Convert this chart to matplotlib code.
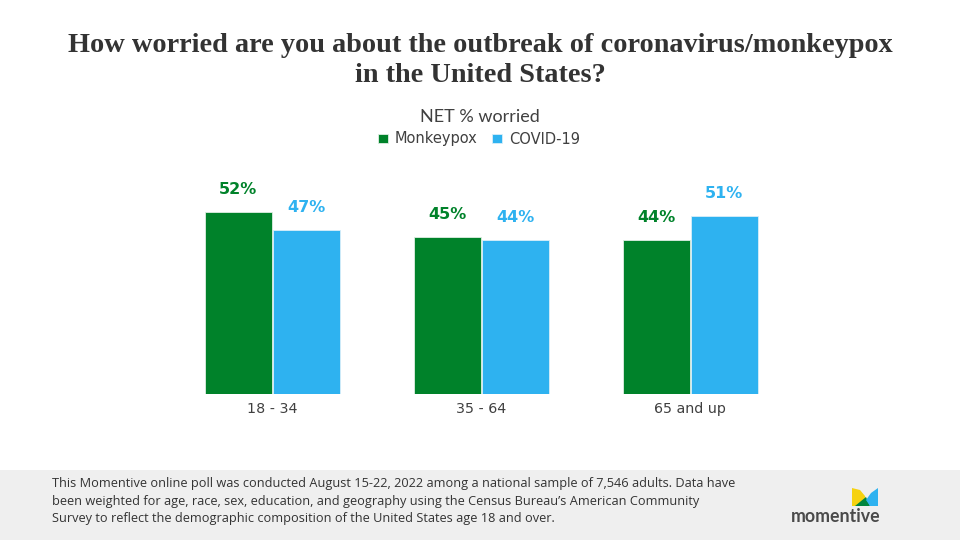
import matplotlib
matplotlib.use("Agg")
import matplotlib.pyplot as plt
from matplotlib.patches import Rectangle, Polygon
import numpy as np

categories = ["18 - 34", "35 - 64", "65 and up"]
series_names = ["Monkeypox", "COVID-19"]
monkeypox = [52, 45, 44]
covid = [47, 44, 51]

GREEN = "#00822a"
BLUE = "#2eb2f0"

W, H = 960, 540
fig = plt.figure(figsize=(9.6, 5.4), dpi=100)
fig.patch.set_facecolor("white")

def fx(px):
    return px / W

def fy(py):
    return 1 - py / H

# footer band
fig.patches.append(Rectangle((0, 0), 1, fy(470), transform=fig.transFigure,
                             facecolor="#efefef", edgecolor="none", zorder=0))

# title
fig.text(0.5, fy(46), "How worried are you about the outbreak of coronavirus/monkeypox",
         ha="center", va="center", fontsize=20.3, fontweight="bold",
         family="Liberation Serif", color="#333333")
fig.text(0.5, fy(76), "in the United States?",
         ha="center", va="center", fontsize=20.3, fontweight="bold",
         family="Liberation Serif", color="#333333")

# subtitle
fig.text(0.5, fy(117), "NET % worried", ha="center", va="center",
         fontsize=13, color="#404040", family="Lato")

# axes: group centers at px 272, 482, 690 ; baseline at 394 ; 3.5 px per unit
ax_left_px, ax_right_px = 150, 810
ax_top_px, ax_bot_px = 184, 394
ax = fig.add_axes([fx(ax_left_px), fy(ax_bot_px),
                   (ax_right_px - ax_left_px) / W, (ax_bot_px - ax_top_px) / H])
spacing = 209.0
c0 = 272.0
ax.set_xlim((ax_left_px - c0) / spacing, (ax_right_px - c0) / spacing)
ax.set_ylim(0, (ax_bot_px - ax_top_px) / 3.5)

x = np.arange(len(categories))
bw = 67 / spacing
off = 34 / spacing
b1 = ax.bar(x - off, monkeypox, width=bw, color=GREEN, edgecolor="#dfeee3",
            linewidth=0.6, label=series_names[0])
b2 = ax.bar(x + off, covid, width=bw, color=BLUE, edgecolor="#d8eef9",
            linewidth=0.6, label=series_names[1])

for xi, v in zip(x - off, monkeypox):
    ax.annotate(f"{v}%", (xi, v), xytext=(0, 22), textcoords="offset pixels",
                ha="center", va="center", fontsize=11.5, fontweight="bold",
                color=GREEN, family="DejaVu Sans")
for xi, v in zip(x + off, covid):
    ax.annotate(f"{v}%", (xi, v), xytext=(0, 22), textcoords="offset pixels",
                ha="center", va="center", fontsize=11.5, fontweight="bold",
                color=BLUE, family="DejaVu Sans")

ax.set_xticks(x)
ax.set_xticklabels(categories, fontsize=10.3, color="#404040", family="DejaVu Sans")
ax.tick_params(axis="x", length=0, pad=6)
ax.set_yticks([])
for s in ax.spines.values():
    s.set_visible(False)
ax.patch.set_alpha(0)

# legend
leg = fig.legend(handles=[b1, b2], labels=series_names, loc="center",
                 bbox_to_anchor=(fx(479), fy(139)), ncol=2, frameon=False,
                 handlelength=0.65, handleheight=0.65,
                 handletextpad=0.5, columnspacing=1.0,
                 prop={"family": "DejaVu Sans", "size": 10.5})
for t in leg.get_texts():
    t.set_color("#404040")

# footer text
footer = ("This Momentive online poll was conducted August 15-22, 2022 among a national sample of 7,546 adults. Data have\n"
          "been weighted for age, race, sex, education, and geography using the Census Bureau\u2019s American Community\n"
          "Survey to reflect the demographic composition of the United States age 18 and over.")
fig.text(fx(52), fy(501), footer, ha="left", va="center", fontsize=9.15,
         color="#333333", family="Open Sans", linespacing=1.42)

# logo
yellow = [(852, 488), (860, 490), (865, 496), (866, 500), (859, 506), (852, 506)]
green = [(855, 506), (866, 497), (870, 506)]
blue = [(866, 500), (871, 493), (878, 488), (878, 506), (870, 506)]
for pts, col in [(yellow, "#f6d20f"), (green, "#00853e"), (blue, "#2eb2f0")]:
    fig.patches.append(Polygon([(fx(a), fy(b)) for a, b in pts], closed=True,
                               transform=fig.transFigure, facecolor=col,
                               edgecolor="none", zorder=2))
fig.text(fx(836), fy(516), "momentive", ha="center", va="center", fontsize=12.8,
         fontweight="bold", color="#4a4a4a", family="Lato")

fig.savefig("out.png", dpi=100)
